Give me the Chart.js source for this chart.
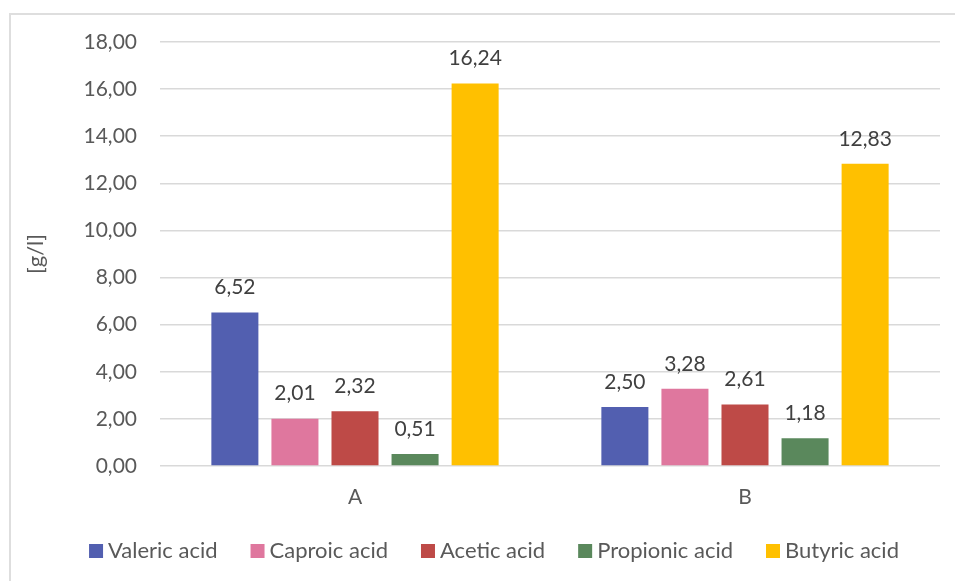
<!DOCTYPE html>
<html>
<head>
<meta charset="utf-8">
<script src="https://cdn.jsdelivr.net/npm/chart.js@4/dist/chart.umd.min.js"></script>
<style>
  html, body { margin: 0; padding: 0; background: #ffffff; }
  #wrap { position: relative; width: 955px; height: 581px; overflow: hidden; }
  #frame { position: absolute; left: 9px; top: 13px; width: 1000px; height: 1000px;
           border-left: 2px solid #dedede; border-top: 2px solid #dedede; }
  canvas { position: absolute; left: 0; top: 0; }
</style>
</head>
<body>
<div id="wrap">
  <div id="frame"></div>
  <canvas id="chart" width="955" height="581"></canvas>
</div>
<script>
// Samples and measured acid concentrations [g/l]
const categories = ['A', 'B'];
const valeric = [6.52, 2.50];
const caproic = [2.01, 3.28];
const acetic = [2.32, 2.61];
const propionic = [0.51, 1.18];
const butyric = [16.24, 12.83];

const seriesNames = ['Valeric acid', 'Caproic acid', 'Acetic acid', 'Propionic acid', 'Butyric acid'];
const seriesValues = [valeric, caproic, acetic, propionic, butyric];
const seriesColors = ['#525FB0', '#DF779E', '#BE4A47', '#5A885C', '#FFC000'];

const FONT = 'Lato, "Open Sans", sans-serif';
const fmt = v => Number(v).toFixed(2).replace('.', ',');

// Writes each bar's value above it
const valueLabels = {
  id: 'valueLabels',
  afterDatasetsDraw(chart) {
    const ctx = chart.ctx;
    ctx.save();
    ctx.font = '21px ' + FONT;
    ctx.fillStyle = '#404040';
    ctx.textAlign = 'center';
    ctx.textBaseline = 'middle';
    chart.data.datasets.forEach((ds, i) => {
      chart.getDatasetMeta(i).data.forEach((bar, j) => {
        ctx.fillText(fmt(ds.data[j]), bar.x, bar.y - 25);
      });
    });
    ctx.restore();
  }
};

// Single-row legend under the axis: square swatch, short gap, series name
const bottomLegend = {
  id: 'bottomLegend',
  afterDraw(chart) {
    const ctx = chart.ctx;
    const box = 14, gapText = 5, gapItem = 33, centerX = 494, centerY = 551;
    ctx.save();
    ctx.font = '22px ' + FONT;
    ctx.textBaseline = 'middle';
    ctx.textAlign = 'left';
    const widths = chart.data.datasets.map(ds => ctx.measureText(ds.label).width);
    const total = widths.reduce((s, w) => s + box + gapText + w, 0) + gapItem * (widths.length - 1);
    let x = centerX - total / 2;
    chart.data.datasets.forEach((ds, i) => {
      ctx.fillStyle = ds.backgroundColor;
      ctx.fillRect(x, centerY - box / 2, box, box);
      x += box + gapText;
      ctx.fillStyle = '#595959';
      ctx.fillText(ds.label, x, centerY);
      x += widths[i] + gapItem;
    });
    ctx.restore();
  }
};

new Chart(document.getElementById('chart'), {
  type: 'bar',
  data: {
    labels: categories,
    datasets: seriesNames.map((name, i) => ({
      label: name,
      data: seriesValues[i],
      backgroundColor: seriesColors[i],
      borderWidth: 0,
      categoryPercentage: 0.77,
      barPercentage: 0.783
    }))
  },
  options: {
    responsive: false,
    animation: false,
    devicePixelRatio: 1,
    layout: { padding: { left: 10, top: 42, right: 15, bottom: 67 } },
    scales: {
      x: {
        grid: { display: false, drawTicks: false },
        border: { display: false },
        ticks: { color: '#595959', font: { family: FONT, size: 21 }, padding: 19 },
        afterFit(scale) { scale.height = 48; }
      },
      y: {
        min: 0,
        max: 18,
        ticks: {
          stepSize: 2,
          color: '#595959',
          font: { family: FONT, size: 21 },
          padding: 23,
          callback: v => fmt(v)
        },
        grid: { color: '#d9d9d9', lineWidth: 1.5, drawTicks: false },
        border: { display: false },
        title: {
          display: true,
          text: '[g/l]',
          color: '#595959',
          font: { family: FONT, size: 22 },
          padding: { top: 13, bottom: 0 }
        },
        afterFit(scale) { scale.width = 150; }
      }
    },
    plugins: {
      legend: { display: false },
      tooltip: { enabled: false }
    }
  },
  plugins: [valueLabels, bottomLegend]
});
</script>
</body>
</html>
